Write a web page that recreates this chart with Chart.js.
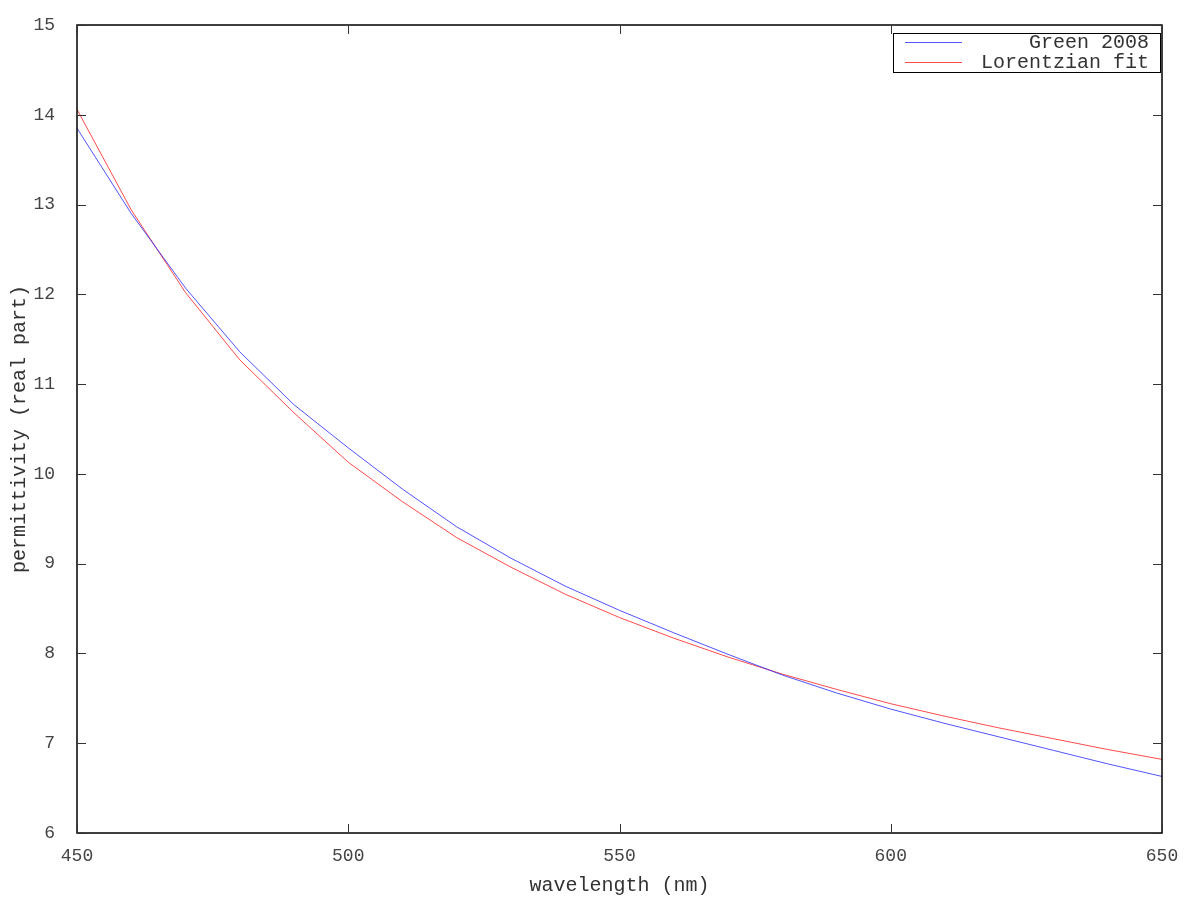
<!DOCTYPE html>
<html><head><meta charset="utf-8">
<script src="https://cdn.jsdelivr.net/npm/chart.js@4/dist/chart.umd.min.js"></script>
<style>html,body{margin:0;padding:0;background:#fff}#wrap{width:1200px;height:900px}</style>
</head><body><div id="wrap"><canvas id="c" width="1200" height="900"></canvas></div>
<script>
const wavelengths = [450,460,470,480,490,500,510,520,530,540,550,560,570,580,590,600,610,620,630,640,650];
const green2008 = [13.85,12.90,12.07,11.36,10.77,10.29,9.83,9.41,9.06,8.75,8.48,8.23,7.99,7.76,7.56,7.38,7.22,7.07,6.92,6.77,6.63];
const lorentzFit = [14.06,12.94,12.02,11.27,10.68,10.13,9.69,9.29,8.96,8.66,8.40,8.17,7.96,7.77,7.60,7.44,7.30,7.17,7.05,6.93,6.82];
const xTicks = [450,500,550,600,650];
const yTicks = [6,7,8,9,10,11,12,13,14,15];
const seriesNames = ['Green 2008','Lorentzian fit'];

const FONT = '"Liberation Mono", "DejaVu Sans Mono", monospace';
const boxPlugin = {
  id:'box',
  afterDraw(chart){
    const {ctx, chartArea:a, scales:{x,y}} = chart;
    ctx.save();
    ctx.strokeStyle='#000'; ctx.lineWidth=1.5;
    ctx.strokeRect(a.left, a.top, a.right-a.left, a.bottom-a.top);
    ctx.lineWidth=1; ctx.strokeStyle='#333';
    const L=9;
    xTicks.forEach(v=>{const p=Math.round(x.getPixelForValue(v))+0.5;
      ctx.beginPath();ctx.moveTo(p,a.bottom);ctx.lineTo(p,a.bottom-L);ctx.moveTo(p,a.top);ctx.lineTo(p,a.top+L);ctx.stroke();});
    yTicks.forEach(v=>{const p=Math.round(y.getPixelForValue(v))+0.5;
      ctx.beginPath();ctx.moveTo(a.left,p);ctx.lineTo(a.left+L,p);ctx.moveTo(a.right,p);ctx.lineTo(a.right-L,p);ctx.stroke();});
    // legend
    const bx=893,by=33,bw=267,bh=39;
    ctx.fillStyle='#fff';ctx.fillRect(bx,by,bw,bh);
    ctx.strokeStyle='#000';ctx.lineWidth=1;ctx.strokeRect(bx+0.5,by+0.5,bw,bh);
    ctx.font='20px '+FONT;ctx.textAlign='right';ctx.textBaseline='middle';
    chart.data.datasets.forEach((ds,i)=>{
      const yy=by+9+i*20;
      ctx.strokeStyle=ds.borderColor;ctx.beginPath();ctx.moveTo(905,yy+0.5);ctx.lineTo(962,yy+0.5);ctx.stroke();
      ctx.fillStyle='#333';ctx.fillText(ds.label,1149,yy+1);
    });
    ctx.restore();
  }
};

new Chart(document.getElementById('c'),{
  type:'line',
  data:{datasets:[
    {label:seriesNames[0],data:wavelengths.map((w,i)=>({x:w,y:green2008[i]})),borderColor:'rgba(40,40,255,0.8)',borderWidth:1,pointRadius:0,tension:0},
    {label:seriesNames[1],data:wavelengths.map((w,i)=>({x:w,y:lorentzFit[i]})),borderColor:'rgba(255,30,30,0.8)',borderWidth:1,pointRadius:0,tension:0}
  ]},
  options:{
    responsive:false,animation:false,
    layout:{padding:{left:0,right:38,top:25,bottom:0}},
    plugins:{legend:{display:false},tooltip:{enabled:false}},
    scales:{
      x:{type:'linear',min:450,max:650,
        afterBuildTicks(s){s.ticks=xTicks.map(v=>({value:v}));},
        afterFit(s){s.height=67;},
        grid:{display:false},border:{display:false},
        ticks:{color:'#444',font:{family:FONT,size:18},padding:4,maxRotation:0},
        title:{display:true,text:'wavelength (nm)',color:'#333',font:{family:FONT,size:20},padding:{top:4,bottom:2}}},
      y:{min:6,max:15,
        afterBuildTicks(s){s.ticks=yTicks.map(v=>({value:v}));},
        afterFit(s){s.width=77;},
        grid:{display:false},border:{display:false},
        ticks:{color:'#444',font:{family:FONT,size:18},padding:14},
        title:{display:true,text:'permittivity (real part)',color:'#333',font:{family:FONT,size:20},padding:{top:8,bottom:4}}}
    }
  },
  plugins:[boxPlugin]
});
</script></body></html>
